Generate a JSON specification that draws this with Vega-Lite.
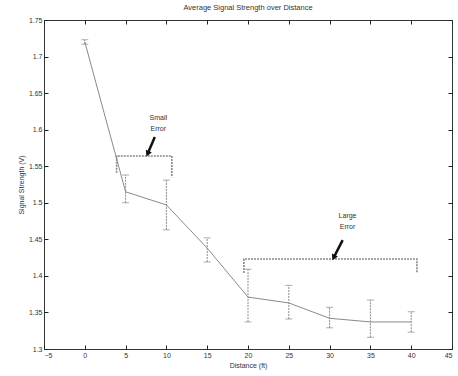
{
  "$schema": "https://vega.github.io/schema/vega-lite/v6.json",
  "width": 408,
  "height": 329,
  "autosize": {"type": "none"},
  "padding": {"left": 44, "top": 20, "right": 6, "bottom": 27},
  "background": "white",
  "config": {
    "font": "Liberation Sans",
    "view": {"stroke": "#333", "strokeWidth": 1},
    "axis": {"grid": false, "domain": false, "tickColor": "#222", "tickWidth": 1, "tickSize": -4, "labelFontSize": 7, "labelColor": "#333", "titleFontSize": 7, "titleFontWeight": "normal", "titleColor": "#333"}
  },
  "title": {"text": "Average Signal Strength over Distance", "fontSize": 7.5, "fontWeight": "normal", "color": "#333", "offset": 5},
  "datasets": {
    "main": [
      {"d": 0, "v": 1.720, "lo": 1.717, "hi": 1.723},
      {"d": 5, "v": 1.515, "lo": 1.500, "hi": 1.538},
      {"d": 10, "v": 1.497, "lo": 1.463, "hi": 1.531},
      {"d": 15, "v": 1.438, "lo": 1.419, "hi": 1.452},
      {"d": 20, "v": 1.371, "lo": 1.337, "hi": 1.409},
      {"d": 25, "v": 1.363, "lo": 1.341, "hi": 1.387},
      {"d": 30, "v": 1.342, "lo": 1.329, "hi": 1.357},
      {"d": 35, "v": 1.337, "lo": 1.316, "hi": 1.367},
      {"d": 40, "v": 1.337, "lo": 1.323, "hi": 1.351}
    ],
    "brackets": [
      {"g": "small", "o": 1, "d": 3.9, "v": 1.541},
      {"g": "small", "o": 2, "d": 3.9, "v": 1.564},
      {"g": "small", "o": 3, "d": 10.66, "v": 1.564},
      {"g": "small", "o": 4, "d": 10.66, "v": 1.535},
      {"g": "large", "o": 1, "d": 19.5, "v": 1.404},
      {"g": "large", "o": 2, "d": 19.5, "v": 1.423},
      {"g": "large", "o": 3, "d": 40.7, "v": 1.423},
      {"g": "large", "o": 4, "d": 40.7, "v": 1.404}
    ],
    "arrows": [
      {"d": 8.58, "v": 1.590, "d2": 7.7, "v2": 1.567},
      {"d": 31.6, "v": 1.449, "d2": 30.5, "v2": 1.425}
    ],
    "labels": [
      {"d": 9.0, "v": 1.616, "t": "Small"},
      {"d": 9.0, "v": 1.601, "t": "Error"},
      {"d": 32.2, "v": 1.482, "t": "Large"},
      {"d": 32.2, "v": 1.467, "t": "Error"}
    ]
  },
  "resolve": {"axis": {"x": "independent", "y": "independent"}},
  "layer": [
    {
      "data": {"name": "main"},
      "mark": {"type": "line", "color": "#8a8a8a", "strokeWidth": 1},
      "encoding": {
        "x": {"field": "d", "type": "quantitative", "scale": {"domain": [-5, 45], "nice": false, "zero": false},
              "axis": {"orient": "bottom", "values": [-5, 0, 5, 10, 15, 20, 25, 30, 35, 40, 45], "title": "Distance (ft)", "labelPadding": 6, "titlePadding": 3}},
        "y": {"field": "v", "type": "quantitative", "scale": {"domain": [1.3, 1.75], "nice": false, "zero": false},
              "axis": {"orient": "left", "values": [1.3, 1.35, 1.4, 1.45, 1.5, 1.55, 1.6, 1.65, 1.7, 1.75], "format": "~g", "title": "Signal Strength (V)", "labelPadding": 6, "titlePadding": 4}}
      }
    },
    {
      "data": {"name": "main"},
      "mark": {"type": "rule", "color": "#8a8a8a", "strokeWidth": 1, "strokeDash": [2, 1]},
      "encoding": {
        "x": {"field": "d", "type": "quantitative", "axis": {"orient": "top", "values": [-5, 0, 5, 10, 15, 20, 25, 30, 35, 40, 45], "labels": false, "title": null}},
        "y": {"field": "lo", "type": "quantitative", "axis": {"orient": "right", "values": [1.3, 1.35, 1.4, 1.45, 1.5, 1.55, 1.6, 1.65, 1.7, 1.75], "labels": false, "title": null}},
        "y2": {"field": "hi"}
      }
    },
    {
      "data": {"name": "main"},
      "mark": {"type": "tick", "orient": "horizontal", "color": "#8a8a8a", "size": 7, "thickness": 1},
      "encoding": {
        "x": {"field": "d", "type": "quantitative", "axis": null},
        "y": {"field": "lo", "type": "quantitative", "axis": null}
      }
    },
    {
      "data": {"name": "main"},
      "mark": {"type": "tick", "orient": "horizontal", "color": "#8a8a8a", "size": 7, "thickness": 1},
      "encoding": {
        "x": {"field": "d", "type": "quantitative", "axis": null},
        "y": {"field": "hi", "type": "quantitative", "axis": null}
      }
    },
    {
      "data": {"name": "brackets"},
      "mark": {"type": "line", "color": "#888", "strokeWidth": 1.6, "strokeDash": [2, 1]},
      "encoding": {
        "x": {"field": "d", "type": "quantitative", "axis": null},
        "y": {"field": "v", "type": "quantitative", "axis": null},
        "detail": {"field": "g"},
        "order": {"field": "o"}
      }
    },
    {
      "data": {"name": "arrows"},
      "mark": {"type": "rule", "color": "#111", "strokeWidth": 2.5},
      "encoding": {
        "x": {"field": "d", "type": "quantitative", "axis": null},
        "y": {"field": "v", "type": "quantitative", "axis": null},
        "x2": {"field": "d2"},
        "y2": {"field": "v2"}
      }
    },
    {
      "data": {"name": "arrows"},
      "mark": {"type": "point", "shape": "triangle-up", "filled": true, "color": "#111", "size": 45, "opacity": 1, "angle": 205},
      "encoding": {
        "x": {"field": "d2", "type": "quantitative", "axis": null},
        "y": {"field": "v2", "type": "quantitative", "axis": null}
      }
    },
    {
      "data": {"name": "labels"},
      "mark": {"type": "text", "fontSize": 7, "color": "#333", "align": "center", "baseline": "middle"},
      "encoding": {
        "x": {"field": "d", "type": "quantitative", "axis": null},
        "y": {"field": "v", "type": "quantitative", "axis": null},
        "text": {"field": "t"}
      }
    }
  ]
}
